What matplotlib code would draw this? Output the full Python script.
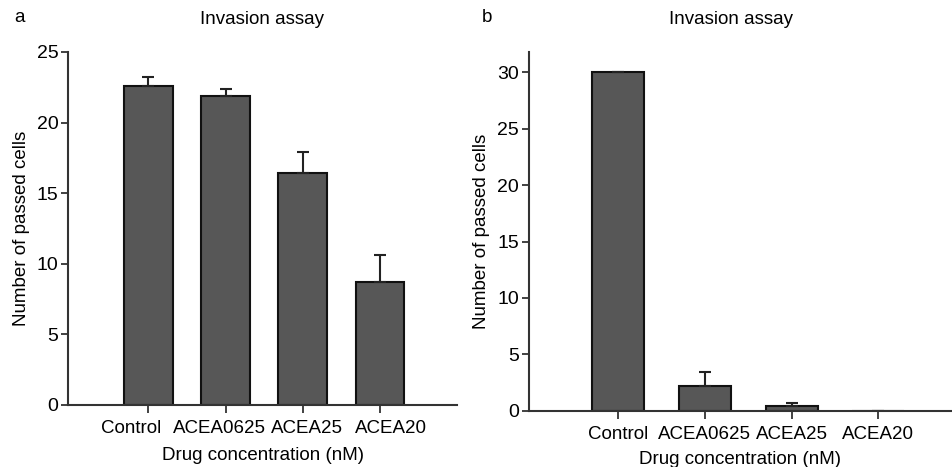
import numpy as np
import matplotlib.pyplot as plt

plt.rcParams['font.family'] = ['Liberation Sans', 'DejaVu Sans']

groups = ['Control', 'ACEA0625', 'ACEA25', 'ACEA20']
vals_a = [22.6, 21.9, 16.4, 8.7]
err_a = [0.6, 0.5, 1.5, 1.9]
vals_b = [30.0, 2.2, 0.45, 0.0]
err_b = [0.0, 1.2, 0.25, 0.0]

bar_col = '#575757'
ax_col = '#333333'
fs = 13.5

# in panel a the category labels sit spread wider than the bars
lab_shift_a = [-0.22, -0.08, 0.06, 0.14]

fig = plt.figure(figsize=(9.52, 4.67), dpi=100)


def panel(rect, vals, errs, ylim, xlim, width, shift=None):
    ax = fig.add_axes(rect)
    x = np.arange(len(groups))
    ax.bar(x, vals, width=width, color=bar_col, edgecolor='#111111', linewidth=1.5,
           yerr=[np.zeros(len(errs)), errs], capsize=4,
           error_kw=dict(ecolor='#222222', elinewidth=1.5, capthick=1.5))
    ax.set_xlim(*xlim)
    ax.set_ylim(*ylim)
    if shift is None:
        ax.set_xticks(x)
        ax.set_xticklabels(groups, fontsize=fs)
    else:
        ax.set_xticks(x)
        ax.set_xticklabels([])
        ax.set_xticks(x + np.array(shift), groups, minor=True, fontsize=fs)
        ax.tick_params(axis='x', which='minor', length=0, pad=11)
    ax.tick_params(axis='y', labelsize=fs + 0.5, length=5, width=1.3, color=ax_col, pad=2)
    ax.tick_params(axis='x', which='major', length=6, width=1.3, color=ax_col, pad=5)
    for s in ['top', 'right']:
        ax.spines[s].set_visible(False)
    for s in ['left', 'bottom']:
        ax.spines[s].set_color(ax_col)
        ax.spines[s].set_linewidth(1.5)
    return ax


ax1 = panel([0.0714, 0.1328, 0.409, 0.756], vals_a, err_a, (0, 25), (-1.04, 4.0), 0.63,
            shift=lab_shift_a)
ax1.set_yticks([0, 5, 10, 15, 20, 25])
ax1.set_ylabel('Number of passed cells', fontsize=fs, labelpad=5)
ax1.set_xlabel('Drug concentration (nM)', fontsize=fs, labelpad=7)

ax2 = panel([0.5554, 0.1206, 0.4446, 0.768], vals_b, err_b, (0, 31.8), (-1.03, 3.85), 0.6)
ax2.set_yticks([0, 5, 10, 15, 20, 25, 30])
ax2.set_ylabel('Number of passed cells', fontsize=fs, labelpad=5)
ax2.set_xlabel('Drug concentration (nM)', fontsize=fs, labelpad=6)

fig.text(14 / 952, 1 - 18 / 467, 'a', fontsize=fs, va='center')
fig.text(482 / 952, 1 - 18 / 467, 'b', fontsize=fs, va='center')
fig.text(262 / 952, 1 - 19 / 467, 'Invasion assay', fontsize=fs, ha='center', va='center')
fig.text(731 / 952, 1 - 19 / 467, 'Invasion assay', fontsize=fs, ha='center', va='center')

fig.savefig('out.png', dpi=100)
